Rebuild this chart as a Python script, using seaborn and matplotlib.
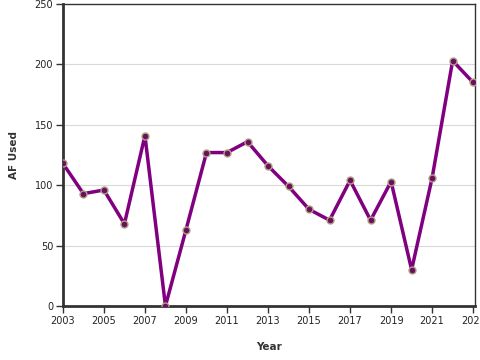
import matplotlib
matplotlib.use("Agg")
import matplotlib.pyplot as plt
import seaborn as sns
import pandas as pd

years = list(range(2003, 2024))
af_used = [118, 93, 96, 68, 141, 0, 63, 127, 127, 136, 116, 99, 80, 71, 104, 71, 103, 30, 106, 203, 185]
xticks = list(range(2003, 2024, 2))
yticks = [0, 50, 100, 150, 200, 250]

sns.set_theme(style="white")
plt.rcParams['font.family'] = ['DejaVu Sans']

df = pd.DataFrame({"Year": years, "AF Used": af_used})

fig = plt.figure(figsize=(4.8, 3.6), dpi=100)
ax = fig.add_axes([0.131, 0.15, 0.859, 0.839])

for y in yticks[1:-1]:
    ax.axhline(y, color="#d9d9d9", linewidth=0.8, zorder=0)

sns.lineplot(data=df, x="Year", y="AF Used", ax=ax, color="#800080", linewidth=2.5,
             marker="o", markersize=5.0, markerfacecolor="#6b1060",
             markeredgecolor="#b0a080", markeredgewidth=1.0, zorder=3)

ax.set_xlim(2003, 2023.1)
ax.set_ylim(0, 250)
ax.set_xticks(xticks)
ax.set_yticks(yticks)
ax.tick_params(axis="both", labelsize=7, colors="#333333", length=5, width=1.0,
               direction="out", bottom=True, left=True, pad=2)
for lab in ax.get_xticklabels() + ax.get_yticklabels():
    lab.set_color("#222222")

for side in ["left", "bottom"]:
    ax.spines[side].set_linewidth(2.0)
    ax.spines[side].set_color("#333333")
for side in ["top", "right"]:
    ax.spines[side].set_linewidth(1.0)
    ax.spines[side].set_color("#333333")
    ax.spines[side].set_visible(True)

ax.set_xlabel("Year", fontsize=7.5, fontweight="bold", color="#333333", labelpad=12)
ax.set_ylabel("AF Used", fontsize=7.5, fontweight="bold", color="#333333", labelpad=11)
ax.grid(False)

fig.savefig("out.png", dpi=100)
